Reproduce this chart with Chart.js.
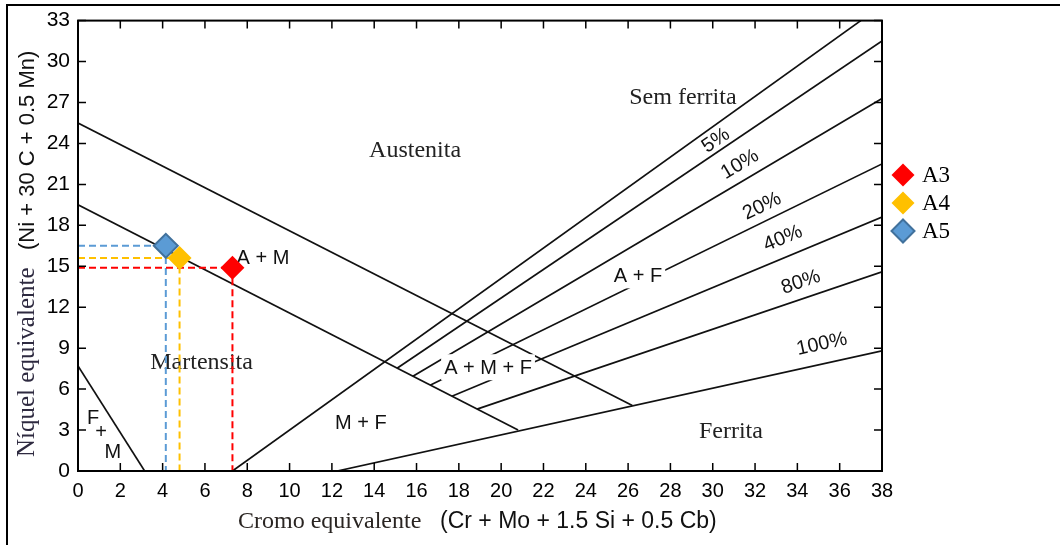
<!DOCTYPE html>
<html>
<head>
<meta charset="utf-8">
<script src="https://cdn.jsdelivr.net/npm/chart.js@4.4.1/dist/chart.umd.min.js"></script>
<style>
  body { margin: 0; background: #fff; }
  canvas { display: block; }
</style>
</head>
<body>
<canvas id="schaeffler" width="1060" height="545"></canvas>
<script>
const SERIF = '"Liberation Serif", "Times New Roman", serif';
const SANS = '"Liberation Sans", Arial, sans-serif';

// samples (Cr eq, Ni eq)
const samples = ['A3', 'A4', 'A5'];
const creq = [7.3, 4.8, 4.15];
const nieq = [14.9, 15.6, 16.5];
const sampleFill = ['#ff0000', '#ffc000', '#5b9bd5'];
const sampleEdge = ['#ff0000', '#ffc000', '#41719c'];

// phase boundaries of the diagram
const austenitaLimit = [{x: 0, y: 25.5}, {x: 26.2, y: 4.8}];
const martensitaLimit = [{x: 0, y: 19.5}, {x: 20.8, y: 3.0}];
const fmLimit = [{x: 0, y: 7.7}, {x: 3.15, y: 0}];
const ferrite0 = [{x: 7.3, y: 0}, {x: 37, y: 33}];
const ferrite100 = [{x: 12.25, y: 0}, {x: 38, y: 8.8}];

// ferrite % lines, starting on the martensite limit, ending on the right edge
const levelNames = ['5%', '10%', '20%', '40%', '80%'];
const levelStartX = [15.08, 15.83, 16.64, 17.67, 18.86];
const levelStartY = [7.53, 6.94, 6.29, 5.48, 4.53];
const levelEndY = [31.5, 27.3, 22.5, 18.6, 14.6];

// percent labels along the lines
const pctNames = ['5%', '10%', '20%', '40%', '80%', '100%'];
const pctX = [30.15, 31.29, 32.33, 33.32, 34.17, 35.16];
const pctY = [24.21, 22.46, 19.39, 17.04, 13.83, 9.29];

// region names
const regionLabels = [
  {text: 'Austenita', x: 15.93, y: 23.48, serif: true},
  {text: 'Sem ferrita', x: 28.59, y: 27.36, serif: true},
  {text: 'Martensita', x: 5.84, y: 7.97, serif: true},
  {text: 'Ferrita', x: 30.86, y: 2.85, serif: true},
  {text: 'A + M', x: 8.74, y: 15.58},
  {text: 'M + F', x: 13.37, y: 3.51},
  {text: 'A + M + F', x: 19.38, y: 7.53, mask: true},
  {text: 'A + F', x: 26.47, y: 14.26, mask: true},
  {text: 'F', x: 0.71, y: 3.88},
  {text: '+', x: 1.09, y: 2.85},
  {text: 'M', x: 1.65, y: 1.39}
];

function boundary(pts) {
  return {data: pts, showLine: true, borderColor: '#111', borderWidth: 1.7,
          pointRadius: 0, order: 3};
}

const levelLines = levelNames.map((n, i) => [
  {x: levelStartX[i], y: levelStartY[i]}, {x: 38, y: levelEndY[i]}
]);
const allLevels = levelLines.concat([ferrite100]);

const datasets = [
  boundary(austenitaLimit), boundary(martensitaLimit), boundary(fmLimit),
  boundary(ferrite0), boundary(ferrite100)
];
levelLines.forEach(l => datasets.push(boundary(l)));

samples.forEach((s, i) => {
  datasets.push({
    data: [{x: 0, y: nieq[i]}, {x: creq[i], y: nieq[i]}, {x: creq[i], y: 0}],
    showLine: true, borderColor: sampleFill[i], borderWidth: 2,
    borderDash: [7, 4], pointRadius: 0, order: 2
  });
});
samples.forEach((s, i) => {
  datasets.push({
    label: s, data: [{x: creq[i], y: nieq[i]}],
    pointStyle: 'rectRot', pointRadius: 12,
    backgroundColor: sampleFill[i], borderColor: sampleEdge[i],
    borderWidth: i === 2 ? 2 : 0, order: 1, isSample: true
  });
});

function drawLabel(ctx, chart, l) {
  const xs = chart.scales.x, ys = chart.scales.y;
  const px = xs.getPixelForValue(l.x), py = ys.getPixelForValue(l.y);
  ctx.font = l.serif ? '24px ' + SERIF : '20px ' + SANS;
  ctx.textAlign = 'center';
  ctx.textBaseline = 'middle';
  if (l.mask) {
    const w = ctx.measureText(l.text).width;
    ctx.fillStyle = '#fff';
    ctx.fillRect(px - w / 2 - 3, py - 14, w + 6, 26);
  }
  ctx.fillStyle = l.serif ? '#222' : '#111';
  ctx.fillText(l.text, px, py);
}

const decor = {
  id: 'decor',
  beforeDatasetsDraw(chart) {
    const ctx = chart.ctx;
    ctx.save();
    regionLabels.filter(l => !l.mask).forEach(l => drawLabel(ctx, chart, l));
    ctx.restore();
  },
  afterDatasetsDraw(chart) {
    const ctx = chart.ctx, xs = chart.scales.x, ys = chart.scales.y, a = chart.chartArea;
    ctx.save();
    regionLabels.filter(l => l.mask).forEach(l => drawLabel(ctx, chart, l));

    // percent labels rotated along their lines
    ctx.font = '20px ' + SANS;
    ctx.fillStyle = '#111';
    ctx.textAlign = 'center';
    ctx.textBaseline = 'middle';
    pctNames.forEach((n, i) => {
      const ln = allLevels[i];
      const ang = Math.atan2(ys.getPixelForValue(ln[1].y) - ys.getPixelForValue(ln[0].y),
                             xs.getPixelForValue(ln[1].x) - xs.getPixelForValue(ln[0].x));
      ctx.save();
      ctx.translate(xs.getPixelForValue(pctX[i]), ys.getPixelForValue(pctY[i]));
      ctx.rotate(ang);
      ctx.fillText(n, 0, 0);
      ctx.restore();
    });

    // plot frame and inward ticks
    ctx.strokeStyle = '#000';
    ctx.lineWidth = 2;
    ctx.strokeRect(a.left, a.top, a.right - a.left, a.bottom - a.top);
    ctx.lineWidth = 1.5;
    ctx.beginPath();
    xs.ticks.forEach(t => {
      const p = xs.getPixelForValue(t.value);
      ctx.moveTo(p, a.bottom); ctx.lineTo(p, a.bottom - 8);
      ctx.moveTo(p, a.top); ctx.lineTo(p, a.top + 8);
    });
    ys.ticks.forEach(t => {
      const p = ys.getPixelForValue(t.value);
      ctx.moveTo(a.left, p); ctx.lineTo(a.left + 8, p);
      ctx.moveTo(a.right, p); ctx.lineTo(a.right - 8, p);
    });
    ctx.stroke();
    ctx.restore();
  },
  afterDraw(chart) {
    const ctx = chart.ctx;
    ctx.save();
    // outer border (top and left)
    ctx.strokeStyle = '#000';
    ctx.lineWidth = 2;
    ctx.beginPath();
    ctx.moveTo(7, 545); ctx.lineTo(7, 5); ctx.lineTo(1060, 5);
    ctx.stroke();

    // x title: serif part + sans part
    ctx.textBaseline = 'alphabetic';
    ctx.textAlign = 'left';
    ctx.font = '24px ' + SERIF;
    ctx.fillStyle = '#2a2522';
    ctx.fillText('Cromo equivalente', 238, 528);
    ctx.font = '23px ' + SANS;
    ctx.fillStyle = '#111';
    ctx.fillText('(Cr + Mo + 1.5 Si + 0.5 Cb)', 440, 528);

    // y title, rotated
    ctx.save();
    ctx.translate(34, 457);
    ctx.rotate(-Math.PI / 2);
    ctx.font = '25px ' + SERIF;
    ctx.fillStyle = '#2e2a40';
    ctx.fillText('Níquel equivalente', 0, 0);
    ctx.font = '22px ' + SANS;
    ctx.fillStyle = '#111';
    ctx.fillText('(Ni + 30 C + 0.5 Mn)', 207, 0);
    ctx.restore();

    // legend from the sample datasets
    chart.data.datasets.filter(d => d.isSample).forEach((d, i) => {
      const cx = 903, cy = 175 + i * 28, r = 11.5;
      ctx.beginPath();
      ctx.moveTo(cx, cy - r); ctx.lineTo(cx + r, cy);
      ctx.lineTo(cx, cy + r); ctx.lineTo(cx - r, cy);
      ctx.closePath();
      ctx.fillStyle = d.backgroundColor;
      ctx.fill();
      if (d.borderWidth) {
        ctx.lineWidth = d.borderWidth;
        ctx.strokeStyle = d.borderColor;
        ctx.stroke();
      }
      ctx.font = '23px ' + SERIF;
      ctx.fillStyle = '#000';
      ctx.textBaseline = 'middle';
      ctx.fillText(d.label, 922, cy + 1);
    });
    ctx.restore();
  }
};

new Chart(document.getElementById('schaeffler'), {
  type: 'scatter',
  data: {datasets: datasets},
  options: {
    responsive: false,
    animation: false,
    events: [],
    layout: {padding: {top: 20, right: 178, left: 0, bottom: 0}},
    plugins: {legend: {display: false}, tooltip: {enabled: false}},
    scales: {
      x: {
        type: 'linear', min: 0, max: 38,
        ticks: {stepSize: 2, color: '#000', font: {family: SANS, size: 20},
                padding: 8, maxRotation: 0, autoSkip: false},
        grid: {display: false, drawTicks: false}, border: {display: false},
        afterFit(s) { s.height = 74; }
      },
      y: {
        type: 'linear', min: 0, max: 33,
        ticks: {stepSize: 3, color: '#000', font: {family: SANS, size: 21},
                padding: 8, autoSkip: false},
        grid: {display: false, drawTicks: false}, border: {display: false},
        afterFit(s) { s.width = 78; }
      }
    }
  },
  plugins: [decor]
});
</script>
</body>
</html>
